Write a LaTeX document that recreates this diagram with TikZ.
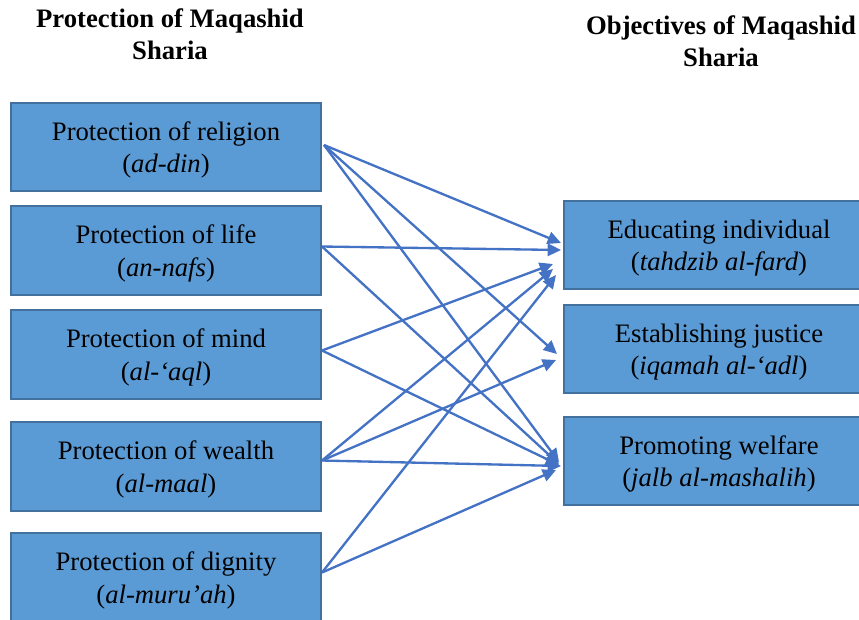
\documentclass[tikz,border=0pt]{standalone}
\usepackage{fontspec}
\setmainfont{Liberation Serif}
\usetikzlibrary{arrows.meta,calc}
\definecolor{boxfill}{HTML}{5B9BD5}
\definecolor{boxline}{HTML}{41719C}
\definecolor{linkblue}{HTML}{4472C4}
\begin{document}
\begin{tikzpicture}[
  x=0.45pt, y=-0.45pt,
  heading/.style = {font=\fontsize{12}{14.2}\selectfont\bfseries, align=center},
  aspect/.style = {shape=rectangle, draw=boxline, fill=boxfill, line width=0.9pt,
    minimum width=139.5pt, minimum height=40pt, inner sep=0pt, align=center,
    font=\fontsize{12}{14.8}\selectfont, text height=26pt, text depth=2.7pt},
  link/.style = {draw=linkblue, line width=1.05pt, -{Triangle[length=6pt,width=5.6pt]}}
  ]
  \clip (0,0) rectangle (859,619);
  % headings
  \node[heading] (hleft)  at (170,34) {Protection of Maqashid\\Sharia};
  \node[heading] (hright) at (721,41) {Objectives of Maqashid\\Sharia};
  % what is protected
  \node[aspect] (din)    at (166,147)   {Protection of religion\\(\textit{ad-din})};
  \node[aspect] (nafs)   at (166,250.5) {Protection of life\\(\textit{an-nafs})};
  \node[aspect] (aql)    at (166,354.5) {Protection of mind\\(\textit{al-‘aql})};
  \node[aspect] (maal)   at (166,466.5) {Protection of wealth\\(\textit{al-maal})};
  \node[aspect] (muruah) at (166,577.5) {Protection of dignity\\(\textit{al-muru’ah})};
  % objectives
  \node[aspect] (fard) at (719,245) {Educating individual\\(\textit{tahdzib al-fard})};
  \node[aspect] (adl)  at (719,349) {Establishing justice\\(\textit{iqamah al-‘adl})};
  \node[aspect] (mash) at (719,461) {Promoting welfare\\(\textit{jalb al-mashalih})};
  % links
  \draw[link] ($(din.east)+(2,-2)$) -- ($(fard.west)+(-2,-2)$);
  \draw[link] ($(din.east)+(2,-2)$) -- ($(adl.west)+(-6,5)$);
  \draw[link] ($(din.east)+(2,-2)$) -- ($(mash.west)+(-4,1)$);
  \draw[link] ($(nafs.east)+(0,-4)$) -- ($(fard.west)+(-2,5)$);
  \draw[link] ($(nafs.east)+(0,-4)$) -- ($(mash.west)+(-4,3)$);
  \draw[link] ($(aql.east)+(0,-4)$) -- ($(fard.west)+(-10,19)$);
  \draw[link] ($(aql.east)+(0,-4)$) -- ($(mash.west)+(-4,4)$);
  \draw[link] ($(maal.east)+(0,-6)$) -- ($(fard.west)+(-10,24)$);
  \draw[link] ($(maal.east)+(0,-6)$) -- ($(adl.west)+(-7,11)$);
  \draw[link] ($(maal.east)+(0,-6)$) -- ($(mash.west)+(-2,5)$);
  \draw[link] ($(muruah.east)+(0,-5)$) -- ($(fard.west)+(-7,30)$);
  \draw[link] ($(muruah.east)+(0,-5)$) -- ($(mash.west)+(-7,9)$);
\end{tikzpicture}
\end{document}
